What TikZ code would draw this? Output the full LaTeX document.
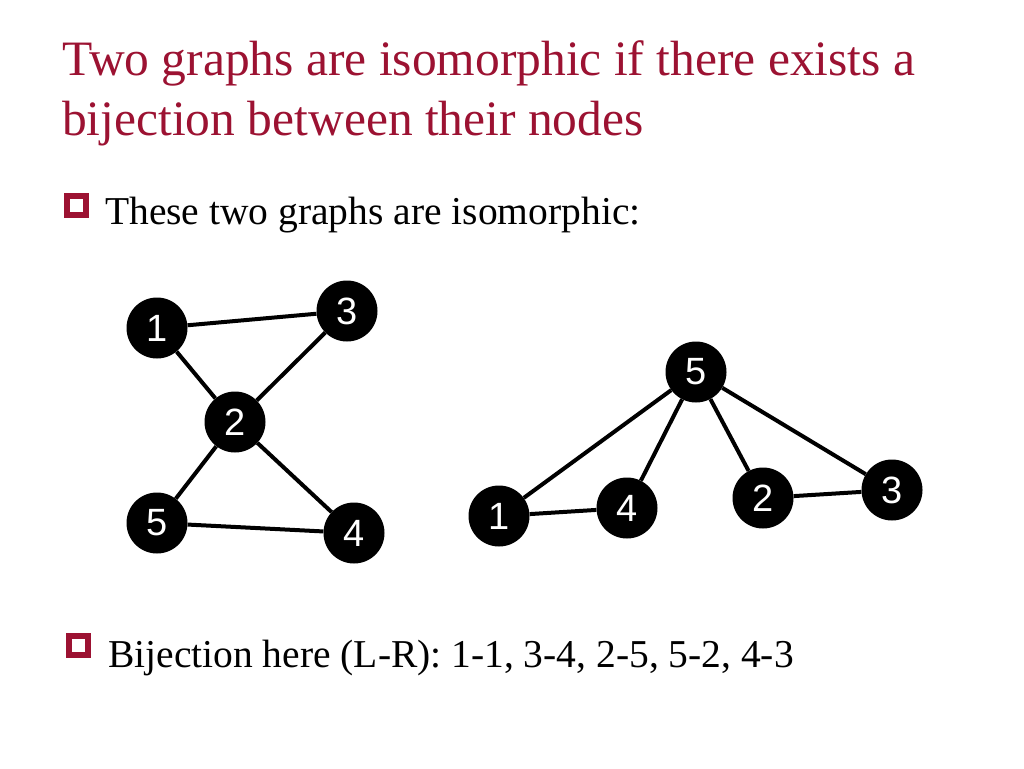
\documentclass[tikz,border=0pt]{standalone}
\usepackage{fontspec}
\setmainfont{Liberation Serif}
\newfontfamily\vtxfont{Liberation Sans}
\usetikzlibrary{positioning}
\definecolor{slideRed}{HTML}{9C1232}

\tikzset{
  vtx/.style={circle,fill=black,minimum size=61pt,inner sep=0pt,text=white,
    font=\vtxfont\fontsize{38}{38}\selectfont},
  edge/.style={line width=4pt},
  bulletbox/.style={draw=slideRed,line width=6pt,fill=white,minimum size=19pt,inner sep=0pt},
  bodytext/.style={anchor=base west,inner sep=0pt,font=\fontsize{39.5}{40}\selectfont},
  titletext/.style={anchor=base west,inner sep=0pt,text=slideRed,font=\fontsize{49.5}{50}\selectfont}
}

\begin{document}
\begin{tikzpicture}[x=1pt,y=-1pt]
  \fill[white] (0,0) rectangle (1024,768);
  \useasboundingbox (0,0) rectangle (1024,768);

  % title
  \node[titletext] (title1) at (62,75) {Two graphs are isomorphic if there exists a};
  \node[titletext] (title2) at (62,135) {bijection between their nodes};

  % bullets
  \node[bulletbox] (box1) at (76,205) {};
  \node[bodytext] (line1) at (105,224) {These two graphs are isomorphic:};
  \node[bulletbox] (box2) at (78,645) {};
  \node[bodytext] (line2) at (108,667) {Bijection here (L-R): 1-1, 3-4, 2-5, 5-2, 4-3};

  % left graph
  \node[vtx] (l1) at (157,328) {1};
  \node[vtx] (l3) at (347,311) {3};
  \node[vtx] (l2) at (235,422) {2};
  \node[vtx] (l5) at (157,523) {5};
  \node[vtx] (l4) at (354,533) {4};
  \draw[edge] (l1) -- (l3);
  \draw[edge] (l1) -- (l2);
  \draw[edge] (l3) -- (l2);
  \draw[edge] (l2) -- (l5);
  \draw[edge] (l2) -- (l4);
  \draw[edge] (l5) -- (l4);

  % right graph
  \node[vtx] (r5) at (696,372) {5};
  \node[vtx] (r1) at (499,516) {1};
  \node[vtx] (r4) at (627,508) {4};
  \node[vtx] (r2) at (763,498) {2};
  \node[vtx] (r3) at (892,490) {3};
  \draw[edge] (r5) -- (r1);
  \draw[edge] (r5) -- (r4);
  \draw[edge] (r5) -- (r2);
  \draw[edge] (r5) -- (r3);
  \draw[edge] (r1) -- (r4);
  \draw[edge] (r2) -- (r3);
\end{tikzpicture}
\end{document}
